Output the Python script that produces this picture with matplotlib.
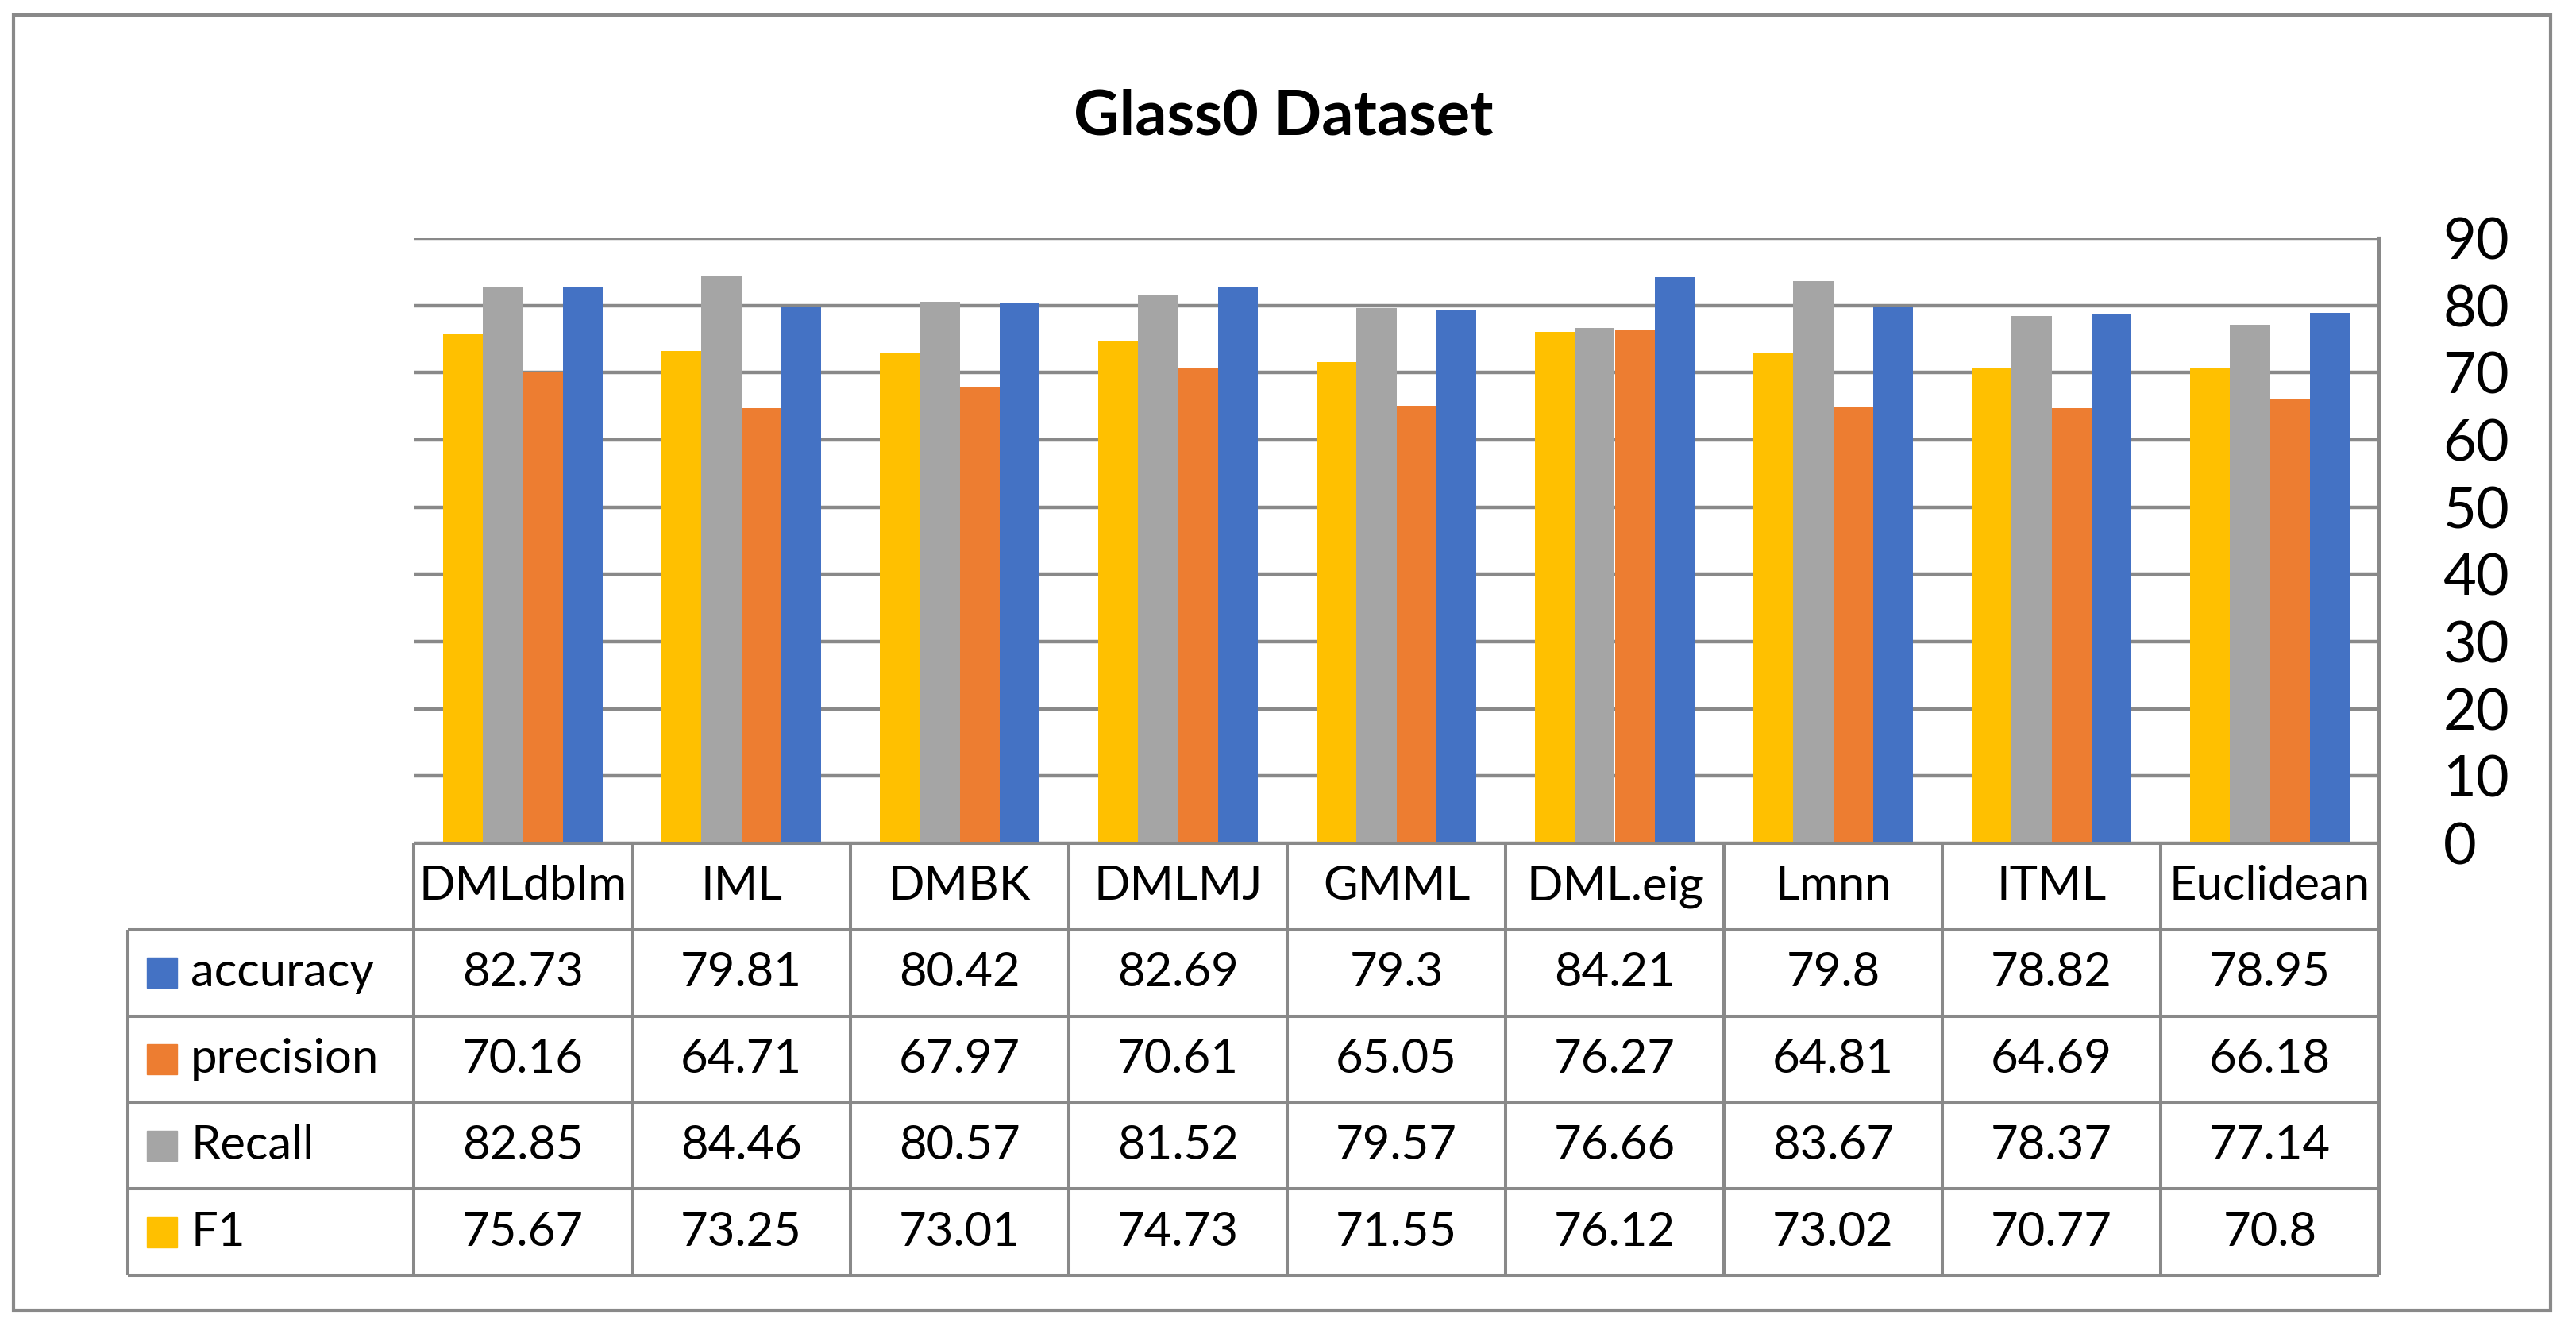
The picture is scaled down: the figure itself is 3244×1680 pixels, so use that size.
import matplotlib
matplotlib.use("Agg")
import matplotlib.pyplot as plt
from matplotlib.patches import Rectangle
import numpy as np

methods = ['DMLdblm', 'IML', 'DMBK', 'DMLMJ', 'GMML', 'DML.eig', 'Lmnn', 'ITML', 'Euclidean']
accuracy = [82.73, 79.81, 80.42, 82.69, 79.3, 84.21, 79.8, 78.82, 78.95]
precision = [70.16, 64.71, 67.97, 70.61, 65.05, 76.27, 64.81, 64.69, 66.18]
recall = [82.85, 84.46, 80.57, 81.52, 79.57, 76.66, 83.67, 78.37, 77.14]
f1 = [75.67, 73.25, 73.01, 74.73, 71.55, 76.12, 73.02, 70.77, 70.8]
row_names = ['accuracy', 'precision', 'Recall', 'F1']
y_ticks = [0, 10, 20, 30, 40, 50, 60, 70, 80, 90]

colors = {'accuracy': '#4472C4', 'precision': '#ED7D31', 'Recall': '#A5A5A5', 'F1': '#FFC000'}
line_c = '#898989'
W, H = 3244, 1680

plt.rcParams['font.family'] = ['Lato', 'DejaVu Sans']

fig = plt.figure(figsize=(W / 100, H / 100), dpi=100)

def px_box(x0, y0, x1, y1):
    # pixel box (top-left origin) -> figure fraction rect
    return [x0 / W, 1 - y1 / H, (x1 - x0) / W, (y1 - y0) / H]

# outer frame
fig.patches.append(Rectangle((17 / W, 1 - 1650 / H), (3212 - 17) / W, (1650 - 19) / H,
                             transform=fig.transFigure, fill=False, edgecolor=line_c,
                             linewidth=3.0))

fig.text(1616 / W, 1 - 170 / H, 'Glass0 Dataset', ha='center', va='baseline',
         fontsize=57, fontweight='bold')

# bar chart
ax = fig.add_axes(px_box(521, 300, 2996, 1062))
x = np.arange(len(methods))
w = 0.1826
series = [('F1', f1), ('Recall', recall), ('precision', precision), ('accuracy', accuracy)]
for k, (name, vals) in enumerate(series):
    ax.bar(x + (k - 1.5) * w, vals, width=w, color=colors[name], zorder=3)

ax.set_xlim(-0.5, len(methods) - 0.5)
ax.set_ylim(0, 90)
ax.set_yticks(y_ticks)
ax.yaxis.tick_right()
ax.tick_params(axis='y', length=0, pad=58, labelsize=52)
for lab in ax.get_yticklabels():
    lab.set_horizontalalignment('left')
ax.set_xticks([])
ax.grid(axis='y', color=line_c, linewidth=3.2, zorder=0)
for s in ['left', 'top', 'bottom']:
    ax.spines[s].set_visible(False)
ax.spines['right'].set_color(line_c)
ax.spines['right'].set_linewidth(3.0)

# data table under the chart
left_units = (521 - 161) / 275.0
tx = fig.add_axes(px_box(161, 1062, 2996, 1606))
tx.set_xlim(-0.5 - left_units, len(methods) - 0.5)
tx.set_ylim(0, 5)
tx.axis('off')
xl = -0.5 - left_units
xr = len(methods) - 0.5
lw = 2.9

# horizontal lines
tx.hlines(5, -0.5, xr, color=line_c, linewidth=lw, clip_on=False)
for yy in range(0, 5):
    tx.hlines(yy, xl, xr, color=line_c, linewidth=lw, clip_on=False)
# vertical lines
tx.vlines(xl, 0, 4, color=line_c, linewidth=lw, clip_on=False)
for i in range(len(methods) + 1):
    tx.vlines(i - 0.5, 0, 5, color=line_c, linewidth=lw, clip_on=False)

fs = 43
for i, m in enumerate(methods):
    tx.text(i, 4.5, m, ha='center', va='center', fontsize=fs)

table_vals = {'accuracy': accuracy, 'precision': precision, 'Recall': recall, 'F1': f1}
for r, name in enumerate(row_names):
    yc = 3.5 - r
    tx.plot([xl + 43 / 275.0], [yc], marker='s', markersize=27.4, color=colors[name],
            linestyle='none', clip_on=False)
    tx.text(xl + 79 / 275.0, yc, name, ha='left', va='center', fontsize=fs)
    for i, v in enumerate(table_vals[name]):
        tx.text(i, yc, f'{v:g}', ha='center', va='center', fontsize=fs)

fig.savefig('out.png', dpi=100)
